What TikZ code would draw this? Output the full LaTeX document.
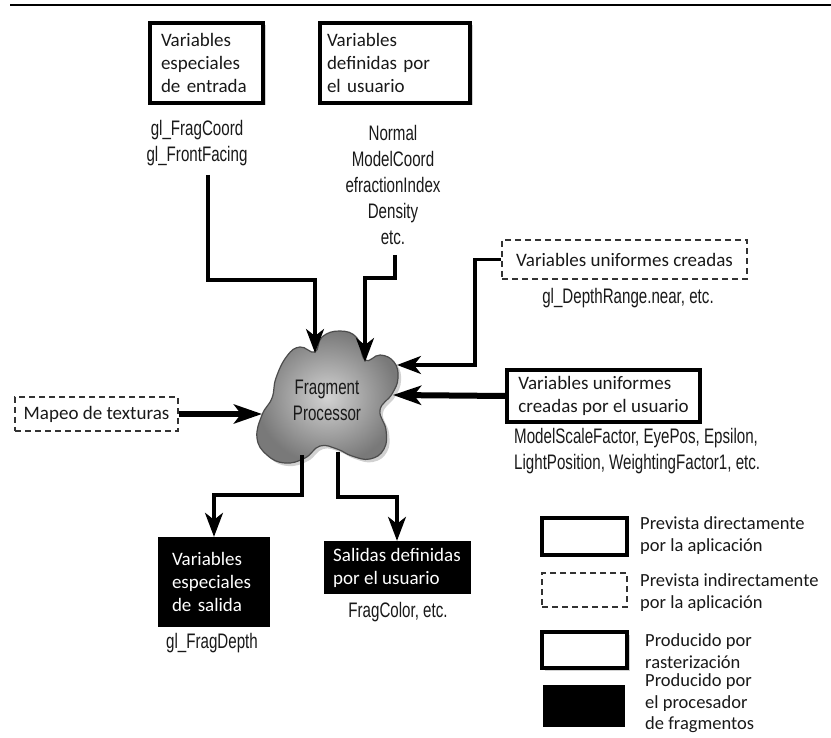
\documentclass[tikz,border=0pt]{standalone}
\usepackage{fontspec}
\setmainfont{Carlito}
\newfontfamily\condfont[FakeStretch=0.72]{Liberation Sans}
\usetikzlibrary{arrows.meta,shadows}
\tikzset{
  boxtxt/.style={font=\fontsize{19}{23}\selectfont, text=black!90, align=left, inner sep=0pt},
  raster/.style={boxtxt, draw, line width=4.5pt, fill=white,
    drop shadow={shadow xshift=2.5pt, shadow yshift=-2.5pt, opacity=0.35}},
  direct/.style={boxtxt, draw, line width=4pt, fill=white},
  indirect/.style={boxtxt, draw=black!80, line width=1.6pt, dash pattern=on 6pt off 4pt},
  fragbox/.style={boxtxt, fill=black, text=white},
  cond/.style={font=\condfont\fontsize{21}{26}\selectfont, align=center, text=black!90, inner sep=0pt},
  legtxt/.style={font=\fontsize{18.5}{22}\selectfont, text=black!90, align=left, inner sep=0pt, anchor=west},
  conn/.style={line width=3.2pt, -{Stealth[length=24pt,width=18pt,inset=7pt]}},
  thickconn/.style={line width=6pt, -{Stealth[length=28pt,width=19pt,inset=7pt]}},
}
\begin{document}
\begin{tikzpicture}[x=1pt,y=-1pt]
\useasboundingbox (0,0) rectangle (831,738);
\fill[white] (0,0) rectangle (831,738);
% top rule
\draw[line width=2pt] (10,5) -- (831,5);

% input boxes
\node[raster, minimum width=113pt, minimum height=80pt, text width=91pt, inner xsep=11pt] (b1) at (206.5,63) {Variables\\especiales\\de entrada};
\node[raster, minimum width=150pt, minimum height=80pt, text width=136pt, inner xsep=7pt] (b2) at (395,63) {Variables\\definidas por\\el usuario};
\node[cond] (t1) at (197,143.5) {gl\_FragCoord\\gl\_FrontFacing};
\node[cond] (t2) at (393,184.5) {Normal\\ModelCoord\\efractionIndex\\Density\\etc.};

\node[indirect, minimum width=245pt, minimum height=39pt] (u1) at (624.5,259.5) {Variables uniformes creadas};
\node[cond] (t3) at (628,298) {gl\_DepthRange.near, etc.};

\node[direct, minimum width=193pt, minimum height=52pt] (u2) at (603.5,396) {Variables uniformes\\creadas por el usuario};
\node[cond, align=left, anchor=west] (t4) at (514,451.5) {\fontsize{21}{22}\selectfont ModelScaleFactor, EyePos, Epsilon,\\LightPosition, WeightingFactor1, etc.};

\node[indirect, minimum width=163pt, minimum height=34pt] (map) at (96.5,414) {Mapeo de texturas};

% cloud
\def\cloudpath{plot[smooth cycle, tension=0.75] coordinates {
 (300,347) (315,352) (322,337) (340,331) (357,338) (365,360) (380,355) (394,362)
 (398,378) (392,394) (380,410) (386,430) (384,449) (370,459) (352,456) (337,449)
 (320,446) (305,458) (285,463) (267,455) (257,438) (262,415) (272,398) (276,378) (287,356)}}
\fill[black, opacity=0.18, xshift=3pt, yshift=-3pt] \cloudpath;
\shade[inner color=gray!35, outer color=gray!95!black, draw=black!70, line width=1.2pt] \cloudpath;
\node[cond] (cloud) at (327,400) {Fragment\\Processor};

\coordinate (cl1) at (315,353);
\coordinate (cl2) at (365,362);
\coordinate (cl3) at (397,365);
\coordinate (cl4) at (393,395);
\coordinate (cl5) at (262,414);
\coordinate (cl6) at (302,455);
\coordinate (cl7) at (338,452);
\coordinate (a1s) at (208,175);
\coordinate (a2s) at (395,255);

% output boxes
\node[fragbox, minimum width=112pt, minimum height=90pt, text width=84pt, inner xsep=14pt] (o1) at (214,582) {Variables\\especiales\\de salida};
\node[cond] (t5) at (212,643) {gl\_FragDepth};
\node[fragbox, minimum width=147pt, minimum height=53pt] (o2) at (397,567.5) {Salidas definidas\\por el usuario};
\node[cond] (t6) at (398,612) {FragColor, etc.};

% connectors
\draw[conn] (a1s) |- (262,280) -| (cl1);
\draw[conn] (a2s) -- (395,278) -| (cl2);
\draw[conn] (u1.west) -| (475,365) -- (cl3);
\draw[thickconn] (u2.west) -- (cl4);
\draw[thickconn] (map.east) -- (cl5);
\draw[conn] (cl6) |- (250,495) -| (o1.north);
\draw[conn] (cl7) |- (370,497) -| (o2.north);

% legend
\node[direct, minimum width=85pt, minimum height=37pt] (l1) at (584.5,536.5) {};
\node[indirect, minimum width=85pt, minimum height=34pt] (l2) at (584.5,590) {};
\node[raster, minimum width=85pt, minimum height=36pt] (l3) at (584.5,650) {};
\node[fragbox, minimum width=82pt, minimum height=42pt] (l4) at (584,706) {};
\node[legtxt] (lt1) at (640,536) {Prevista directamente\\por la aplicación};
\node[legtxt] (lt2) at (640,592.5) {Prevista indirectamente\\por la aplicación};
\node[legtxt] (lt3) at (645,651) {Producido por\\rasterización};
\node[legtxt, font=\fontsize{18.5}{21.5}\selectfont] (lt4) at (645,703.5) {Producido por\\el procesador\\de fragmentos};
\end{tikzpicture}
\end{document}
